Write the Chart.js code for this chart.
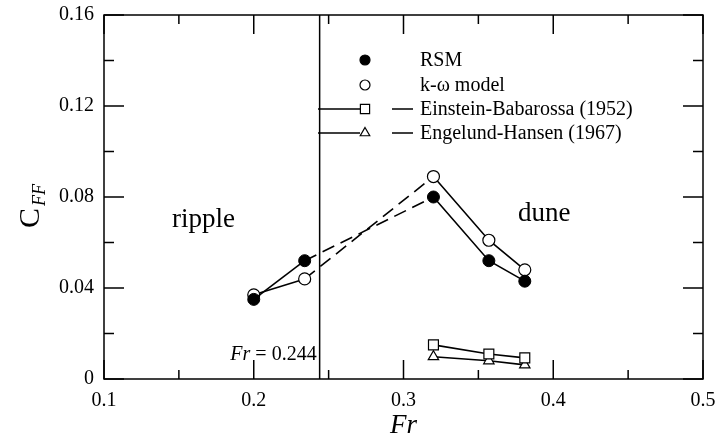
<!DOCTYPE html>
<html>
<head>
<meta charset="utf-8">
<script src="https://cdn.jsdelivr.net/npm/chart.js@4.4.1/dist/chart.umd.min.js"></script>
<style>
  html, body { margin: 0; padding: 0; background: #fff; }
  canvas { display: block; }
</style>
</head>
<body>
<canvas id="cff-chart" width="719" height="444"></canvas>
<script>
// Froude numbers of the computed cases
var frCases = [0.2, 0.234, 0.32, 0.357, 0.381];
var rsmValues = [0.035, 0.052, 0.080, 0.052, 0.043];
var kOmegaValues = [0.037, 0.044, 0.089, 0.061, 0.048];

// empirical formulas, dune regime only
var frEmpirical = [0.32, 0.357, 0.381];
var einsteinValues = [0.0150, 0.0110, 0.0093];
var engelundValues = [0.0098, 0.0080, 0.0062];

var frTransition = 0.244;

var xTicks = [0.1, 0.2, 0.3, 0.4, 0.5];
var xMinorTicks = [0.15, 0.25, 0.35, 0.45];
var yTicks = [0, 0.04, 0.08, 0.12, 0.16];
var yMinorTicks = [0.02, 0.06, 0.1, 0.14];

var legendLabels = ['RSM', 'k-\u03c9 model', 'Einstein-Babarossa (1952)', 'Engelund-Hansen (1967)'];

var serif = "'Liberation Serif', 'Times New Roman', serif";

function toPoints(xs, ys) {
	return xs.map(function(x, i) { return { x: x, y: ys[i] }; });
}

// dashed between the 2nd and 3rd case (ripple -> dune)
var dashGap = function(ctx) {
	return ctx.p0DataIndex === 1 ? [13, 7] : undefined;
};

var framePlugin = {
	id: 'frame',
	afterDraw: function(chart) {
		var ctx = chart.ctx;
		var a = chart.chartArea;
		var xs = chart.scales.x, ys = chart.scales.y;
		ctx.save();
		ctx.strokeStyle = '#000';
		ctx.lineWidth = 1.5;
		ctx.strokeRect(a.left, a.top, a.right - a.left, a.bottom - a.top);

		// inward ticks on all four sides
		ctx.beginPath();
		function xTick(v, len) {
			var px = xs.getPixelForValue(v);
			ctx.moveTo(px, a.bottom); ctx.lineTo(px, a.bottom - len);
			ctx.moveTo(px, a.top); ctx.lineTo(px, a.top + len);
		}
		function yTick(v, len) {
			var py = ys.getPixelForValue(v);
			ctx.moveTo(a.left, py); ctx.lineTo(a.left + len, py);
			ctx.moveTo(a.right, py); ctx.lineTo(a.right - len, py);
		}
		xTicks.forEach(function(v) { xTick(v, 19); });
		xMinorTicks.forEach(function(v) { xTick(v, 9); });
		yTicks.forEach(function(v) { yTick(v, 20); });
		yMinorTicks.forEach(function(v) { yTick(v, 10); });
		ctx.stroke();

		// region labels
		ctx.fillStyle = '#000';
		ctx.textBaseline = 'alphabetic';
		ctx.font = '27px ' + serif;
		ctx.textAlign = 'left';
		ctx.fillText('ripple', 172, 227);
		ctx.fillText('dune', 518, 221);

		// Fr = 0.244 label, right aligned to the transition line
		var lx = xs.getPixelForValue(frTransition) - 3;
		ctx.font = '20px ' + serif;
		ctx.textAlign = 'right';
		var rest = ' = 0.244';
		ctx.fillText(rest, lx, 360);
		var restW = ctx.measureText(rest).width;
		ctx.font = 'italic 20px ' + serif;
		ctx.fillText('Fr', lx - restW, 360);

		// axis titles
		ctx.textAlign = 'center';
		ctx.font = 'italic 27px ' + serif;
		ctx.fillText('Fr', (a.left + a.right) / 2, 433);

		ctx.save();
		ctx.translate(39, 228);
		ctx.rotate(-Math.PI / 2);
		ctx.textAlign = 'left';
		ctx.font = '30px ' + serif;
		ctx.fillText('C', 0, 0);
		var cW = ctx.measureText('C').width;
		ctx.font = 'italic 18px ' + serif;
		ctx.fillText('FF', cW + 2, 6);
		ctx.restore();

		// legend
		var ds = chart.data.datasets;
		var rowY = [60, 85, 109, 133];
		var markX = 365, textX = 420;
		for (var i = 0; i < 4; i++) {
			var d = ds[i];
			var y = rowY[i];
			if (i >= 2) {
				ctx.beginPath();
				ctx.lineWidth = 1.5;
				ctx.moveTo(318, y); ctx.lineTo(markX - 5, y);
				ctx.moveTo(392, y); ctx.lineTo(413, y);
				ctx.stroke();
			}
			ctx.lineWidth = 1.2;
			ctx.fillStyle = d.pointBackgroundColor;
			ctx.strokeStyle = '#000';
			Chart.helpers.drawPoint(ctx, {
				pointStyle: d.pointStyle,
				radius: i < 2 ? 5 : d.pointRadius - 0.5,
				borderWidth: 1.2,
				rotation: 0
			}, markX, y);
			ctx.fillStyle = '#000';
			ctx.font = '20px ' + serif;
			ctx.textAlign = 'left';
			ctx.textBaseline = 'middle';
			ctx.fillText(legendLabels[i], textX, y + 1);
		}
		ctx.restore();
	}
};

new Chart(document.getElementById('cff-chart'), {
	type: 'scatter',
	data: {
		datasets: [{
			label: legendLabels[0],
			data: toPoints(frCases, rsmValues),
			showLine: true,
			borderColor: '#000',
			borderWidth: 1.6,
			segment: { borderDash: dashGap },
			pointStyle: 'circle',
			pointRadius: 6,
			pointBackgroundColor: '#000',
			pointBorderColor: '#000',
			pointBorderWidth: 1
		}, {
			label: legendLabels[1],
			data: toPoints(frCases, kOmegaValues),
			showLine: true,
			borderColor: '#000',
			borderWidth: 1.6,
			segment: { borderDash: dashGap },
			pointStyle: 'circle',
			pointRadius: 6,
			pointBackgroundColor: '#fff',
			pointBorderColor: '#000',
			pointBorderWidth: 1.2
		}, {
			label: legendLabels[2],
			data: toPoints(frEmpirical, einsteinValues),
			showLine: true,
			borderColor: '#000',
			borderWidth: 1.6,
			pointStyle: 'rect',
			pointRadius: 7,
			pointBackgroundColor: '#fff',
			pointBorderColor: '#000',
			pointBorderWidth: 1.2
		}, {
			label: legendLabels[3],
			data: toPoints(frEmpirical, engelundValues),
			showLine: true,
			borderColor: '#000',
			borderWidth: 1.6,
			pointStyle: 'triangle',
			pointRadius: 6,
			pointBackgroundColor: '#fff',
			pointBorderColor: '#000',
			pointBorderWidth: 1.2
		}, {
			label: 'transition',
			data: [{ x: frTransition, y: yTicks[0] }, { x: frTransition, y: yTicks[yTicks.length - 1] }],
			showLine: true,
			borderColor: '#000',
			borderWidth: 1.5,
			pointRadius: 0
		}]
	},
	options: {
		responsive: false,
		animation: false,
		events: [],
		layout: {
			padding: { left: 0, right: 16, top: 15, bottom: 0 }
		},
		plugins: {
			legend: { display: false },
			tooltip: { enabled: false }
		},
		scales: {
			x: {
				type: 'linear',
				min: 0.1,
				max: 0.5,
				afterBuildTicks: function(scale) {
					scale.ticks = xTicks.map(function(v) { return { value: v }; });
				},
				afterFit: function(scale) {
					scale.height = 65;
					scale.paddingLeft = 0;
					scale.paddingRight = 0;
				},
				grid: { display: false, drawTicks: false },
				border: { display: false },
				ticks: {
					padding: 10,
					color: '#000',
					font: { family: serif, size: 20 },
					callback: function(v) { return v.toFixed(1); }
				}
			},
			y: {
				type: 'linear',
				min: 0,
				max: 0.16,
				afterBuildTicks: function(scale) {
					scale.ticks = yTicks.map(function(v) { return { value: v }; });
				},
				afterFit: function(scale) {
					scale.width = 104;
					scale.paddingTop = 0;
					scale.paddingBottom = 0;
				},
				grid: { display: false, drawTicks: false },
				border: { display: false },
				ticks: {
					padding: 10,
					color: '#000',
					font: { family: serif, size: 20 },
					callback: function(v) { return v === 0 ? '0' : v.toFixed(2); }
				}
			}
		}
	},
	plugins: [framePlugin]
});
</script>
</body>
</html>
